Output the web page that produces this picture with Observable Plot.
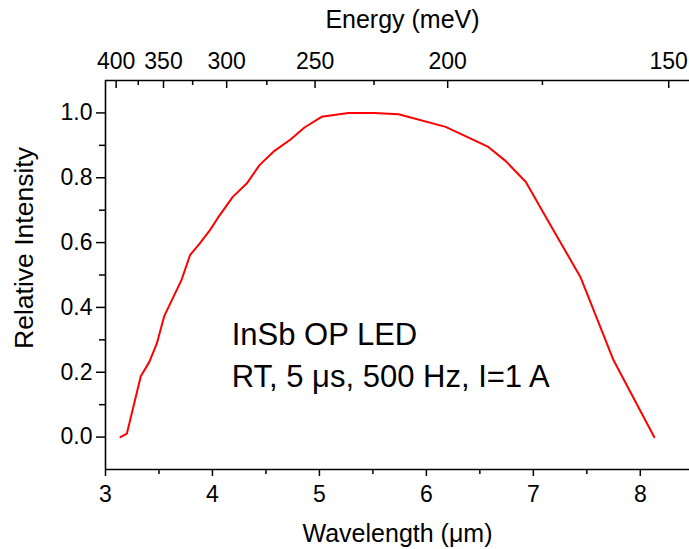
<!DOCTYPE html>
<html><head><meta charset="utf-8">
<script src="https://cdn.jsdelivr.net/npm/d3@7"></script>
<script src="https://cdn.jsdelivr.net/npm/@observablehq/plot@0.6"></script>
<style>body{margin:0;background:#fff;} svg{font-family:"Liberation Sans",Arial,sans-serif;}</style>
</head><body><div id="chart"></div>
<script>
// Data
const wavelength = [3.14,3.20,3.33,3.41,3.48,3.55,3.71,3.79,3.88,3.98,4.05,4.19,4.32,4.44,4.58,4.73,4.86,5.02,5.27,5.51,5.74,6.18,6.57,6.74,6.93,7.13,7.44,7.75,8.13];
const intensity  = [0,0.011,0.188,0.232,0.289,0.374,0.484,0.561,0.597,0.640,0.676,0.741,0.782,0.839,0.883,0.918,0.955,0.988,1.0,1.0,0.996,0.957,0.897,0.852,0.787,0.671,0.494,0.237,0];

const xMajor = [3,4,5,6,7,8];
const xMinor = [3.5,4.5,5.5,6.5,7.5];
const yMajor = [0,0.2,0.4,0.6,0.8,1.0];
const yMinor = [0.1,0.3,0.5,0.7,0.9];
const energyMajor = [400,350,300,250,200,150];
const energyMinor = [375,325,275,225,175];
const hc = 1239.84; // meV·µm

const annotation = "InSb OP LED\nRT, 5 μs, 500 Hz, I=1 A";
const annotationAt = {x: 4.18, y: 0.155};

const data = wavelength.map((w, i) => ({w, v: intensity[i]}));

const W = 689, H = 549, mL = 105, mR = 0, mT = 80, mB = 80;
const plotH = H - mT - mB;

const plot = Plot.plot({
  width: W, height: H,
  marginLeft: mL, marginRight: mR, marginTop: mT, marginBottom: mB,
  style: {fontFamily: "'Liberation Sans', Arial, sans-serif", fontSize: "23px", color: "#000", background: "#fff", overflow: "visible"},
  x: {domain: [3, 8.46]},
  y: {domain: [-0.1, 1.1]},
  marks: [
    // frame lines
    Plot.ruleX([3], {stroke: "#000", strokeWidth: 1.6}),
    Plot.ruleY([-0.1], {stroke: "#000", strokeWidth: 1.6}),
    Plot.ruleY([1.1], {stroke: "#000", strokeWidth: 1.6}),
    // bottom axis
    Plot.axisX({anchor: "bottom", ticks: xMajor, tickSize: 7, tickPadding: 9, tickFormat: d3.format("d"), label: null, fontSize: 23, strokeWidth: 1.5, stroke: "#000", fill: "#000"}),
    Plot.axisX({anchor: "bottom", ticks: xMinor, tickSize: 5, tickFormat: () => "", label: null, strokeWidth: 1.5, stroke: "#000"}),
    // left axis
    Plot.axisY({anchor: "left", ticks: yMajor, tickSize: 9, tickPadding: 4, tickFormat: d3.format(".1f"), label: null, fontSize: 23, strokeWidth: 1.5, stroke: "#000", fill: "#000"}),
    Plot.axisY({anchor: "left", ticks: yMinor, tickSize: 6, tickFormat: () => "", label: null, strokeWidth: 1.5, stroke: "#000"}),
    // top (energy) axis: labels outside, ticks inward
    Plot.axisX({anchor: "top", ticks: energyMajor.map(e => hc / e), tickSize: 0, tickPadding: 12, tickFormat: d => String(Math.round(hc / d)), label: null, fontSize: 23, fill: "#000"}),
    Plot.tickX(energyMajor, {x: e => hc / e, insetBottom: plotH - 8, stroke: "#000", strokeWidth: 1.5}),
    Plot.tickX(energyMinor, {x: e => hc / e, insetBottom: plotH - 5, stroke: "#000", strokeWidth: 1.5}),
    // axis titles
    Plot.text(["Wavelength (μm)"], {frameAnchor: "bottom", lineAnchor: "bottom", dy: 72, fontSize: 25, fill: "#000"}),
    Plot.text(["Energy (meV)"], {frameAnchor: "top", lineAnchor: "bottom", dy: -53, dx: 5, fontSize: 25, fill: "#000"}),
    Plot.text(["Relative Intensity"], {frameAnchor: "left", rotate: -90, textAnchor: "middle", lineAnchor: "bottom", dx: -73, dy: -27, fontSize: 26.5, fill: "#000"}),
    // curve
    Plot.line(data, {x: "w", y: "v", stroke: "#ff0000", strokeWidth: 2}),
    // annotation
    Plot.text([annotation], {x: annotationAt.x, y: annotationAt.y, lineAnchor: "bottom", textAnchor: "start", lineHeight: 1.36, fontSize: 31, fill: "#000"})
  ]
});
document.getElementById("chart").appendChild(plot);
</script>
</body></html>
